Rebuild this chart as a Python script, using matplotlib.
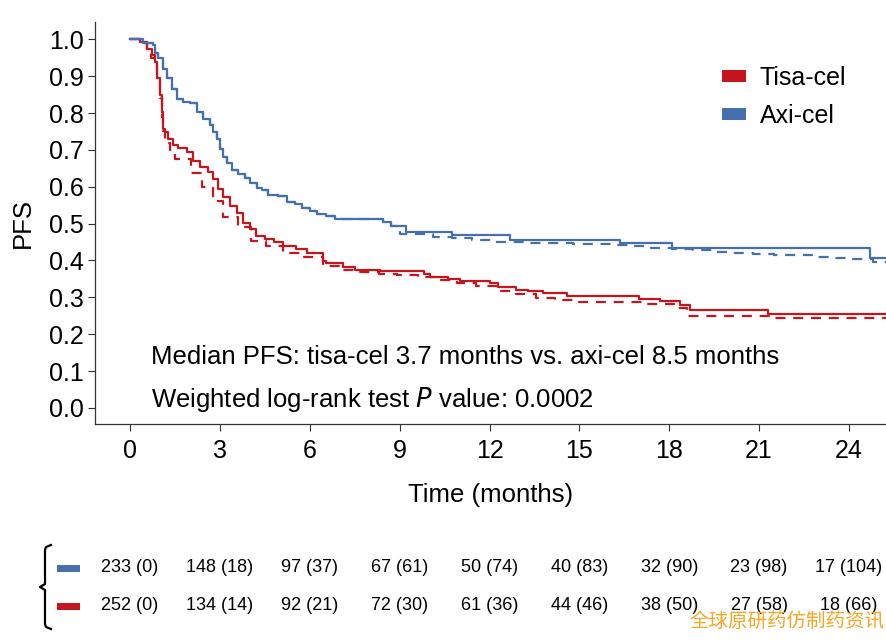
import numpy as np
import matplotlib
matplotlib.use('Agg')
import matplotlib.pyplot as plt
from matplotlib.patches import Patch, Rectangle
from matplotlib.lines import Line2D
import matplotlib.transforms as mtransforms

plt.rcParams['font.family'] = ['Liberation Sans', 'DejaVu Sans']

# Axi-cel, solid curve
axi_t = [0, 0.43, 0.77, 0.83, 0.93, 1.10, 1.23, 1.40, 1.57, 1.77, 2.00, 2.24, 2.44,
         2.67, 2.77, 2.90, 3.00, 3.10, 3.25, 3.40, 3.60, 3.85, 4.00, 4.25, 4.40, 4.60,
         4.95, 5.25, 5.50, 5.75, 6.00, 6.25, 6.55, 6.85, 8.45, 8.70, 9.20, 10.75, 12.70,
         16.35, 18.10, 24.70, 25.3]
axi_s = [1.0, 0.99, 0.985, 0.962, 0.948, 0.92, 0.894, 0.866, 0.839, 0.83, 0.826, 0.803,
         0.785, 0.767, 0.748, 0.73, 0.703, 0.68, 0.665, 0.645, 0.635, 0.624, 0.61, 0.597,
         0.59, 0.578, 0.574, 0.56, 0.552, 0.542, 0.535, 0.525, 0.52, 0.512, 0.505, 0.494,
         0.478, 0.469, 0.456, 0.447, 0.433, 0.406, 0.406]

# Axi-cel, dashed curve
axi_d_t = [0, 0.43, 0.77, 0.83, 0.93, 1.10, 1.23, 1.40, 1.57, 1.77, 2.00, 2.24, 2.44,
           2.67, 2.77, 2.90, 3.00, 3.10, 3.25, 3.40, 3.60, 3.85, 4.00, 4.25, 4.40, 4.60,
           4.95, 5.25, 5.50, 5.75, 6.00, 6.25, 6.55, 6.85, 8.45, 8.70, 9.00, 10.10, 10.75,
           11.40, 12.10, 13.35, 14.80, 16.10, 16.75, 17.40, 18.10, 18.80, 19.50, 20.10,
           20.80, 21.50, 22.10, 22.80, 23.50, 24.10, 24.80, 25.3]
axi_d_s = [1.0, 0.99, 0.985, 0.962, 0.948, 0.92, 0.894, 0.866, 0.839, 0.83, 0.826, 0.803,
           0.785, 0.767, 0.748, 0.73, 0.703, 0.68, 0.665, 0.645, 0.635, 0.624, 0.61, 0.597,
           0.59, 0.578, 0.574, 0.56, 0.552, 0.542, 0.535, 0.525, 0.52, 0.512, 0.505, 0.494,
           0.471, 0.465, 0.46, 0.456, 0.45, 0.447, 0.444, 0.441, 0.438, 0.434, 0.43, 0.428,
           0.424, 0.421, 0.418, 0.416, 0.414, 0.41, 0.407, 0.403, 0.396, 0.396]

# Tisa-cel, solid curve
tisa_t = [0, 0.33, 0.57, 0.73, 0.83, 0.90, 1.00, 1.07, 1.10, 1.17, 1.27, 1.43, 1.60, 1.90,
          2.10, 2.33, 2.60, 2.77, 2.93, 3.10, 3.34, 3.57, 3.77, 4.00, 4.20, 4.50, 4.80,
          5.10, 5.55, 5.90, 6.45, 6.55, 7.10, 7.50, 8.35, 9.80, 10.00, 10.60, 11.00, 12.00,
          12.30, 12.90, 13.30, 13.80, 14.60, 17.00, 17.70, 18.35, 18.70, 21.30, 25.3]
tisa_s = [1.0, 0.994, 0.975, 0.957, 0.939, 0.894, 0.848, 0.803, 0.757, 0.749, 0.73, 0.712,
          0.705, 0.694, 0.671, 0.653, 0.639, 0.621, 0.594, 0.571, 0.549, 0.53, 0.503, 0.485,
          0.467, 0.458, 0.449, 0.44, 0.43, 0.421, 0.399, 0.394, 0.383, 0.374, 0.371, 0.362,
          0.355, 0.349, 0.344, 0.338, 0.328, 0.32, 0.316, 0.311, 0.303, 0.296, 0.289, 0.278,
          0.267, 0.256, 0.256]

# Tisa-cel, dashed curve
tisa_d_t = [0, 0.33, 0.55, 0.70, 0.83, 0.90, 1.00, 1.07, 1.10, 1.17, 1.35, 1.50, 2.05, 2.40,
            2.77, 3.10, 3.60, 4.05, 4.55, 5.10, 5.80, 6.45, 7.00, 7.60, 8.30, 8.90, 9.60,
            10.25, 10.90, 11.55, 12.30, 12.90, 13.55, 14.20, 15.00, 17.20, 18.25, 18.60,
            21.50, 25.3]
tisa_d_s = [1.0, 0.99, 0.97, 0.95, 0.93, 0.89, 0.84, 0.79, 0.75, 0.72, 0.70, 0.675, 0.637,
            0.599, 0.562, 0.517, 0.49, 0.454, 0.438, 0.42, 0.41, 0.385, 0.374, 0.369, 0.364,
            0.36, 0.354, 0.347, 0.338, 0.332, 0.317, 0.31, 0.299, 0.292, 0.287, 0.281, 0.27,
            0.249, 0.243, 0.243]

risk_times = [0, 3, 6, 9, 12, 15, 18, 21, 24]
axi_risk = ['233 (0)', '148 (18)', '97 (37)', '67 (61)', '50 (74)', '40 (83)',
            '32 (90)', '23 (98)', '17 (104)']
tisa_risk = ['252 (0)', '134 (14)', '92 (21)', '72 (30)', '61 (36)', '44 (46)',
             '38 (50)', '27 (58)', '18 (66)']

red = '#c4161c'
blue = '#4570ad'

W, H = 887, 641
fig = plt.figure(figsize=(W / 100, H / 100), dpi=100)
ax = fig.add_axes([95 / W, 1 - 424 / H, 792 / W, 402 / H])

ax.step(tisa_d_t, tisa_d_s, where='post', color=red, lw=1.6, dashes=(4.5, 3.5))
ax.step(axi_d_t, axi_d_s, where='post', color=blue, lw=1.6, dashes=(4.5, 3.5))
ax.step(tisa_t, tisa_s, where='post', color=red, lw=1.6)
ax.step(axi_t, axi_s, where='post', color=blue, lw=1.6)

ax.set_xlim(-1.17, 25.27)
ax.set_ylim(-0.0436, 1.047)
ax.set_xticks(risk_times)
ax.set_yticks(np.arange(0, 1.01, 0.1))
ax.set_yticklabels(['%.1f' % v for v in np.arange(0, 1.01, 0.1)])
ax.tick_params(labelsize=18, length=5, width=0.8, color='#333333')
ax.tick_params(axis='x', pad=6)
ax.tick_params(axis='y', pad=3)
for s in ['right', 'top']:
    ax.spines[s].set_visible(False)
for s in ['left', 'bottom']:
    ax.spines[s].set_linewidth(0.9)
    ax.spines[s].set_color('#333333')

ax.set_xlabel('Time (months)', fontsize=18.5, labelpad=14)
ax.set_ylabel('PFS', fontsize=18.5, labelpad=10)

ax.text(0.7, 0.137, 'Median PFS: tisa-cel 3.7 months vs. axi-cel 8.5 months',
        fontsize=18.5, va='center', ha='left')
ax.text(0.7, 0.023, 'Weighted log-rank test $P$ value: 0.0002',
        fontsize=18.5, va='center', ha='left')

handles = [Patch(facecolor=red, edgecolor='none', label='Tisa-cel'),
           Patch(facecolor=blue, edgecolor='none', label='Axi-cel')]
fig.legend(handles=handles, loc='upper left', bbox_to_anchor=(722 / W, 1 - 66 / H),
           frameon=False, fontsize=18, handlelength=0.96, handleheight=0.4,
           handletextpad=0.56, labelspacing=0.55, borderpad=0, borderaxespad=0)

# number at risk table
trans = mtransforms.blended_transform_factory(ax.transData, fig.transFigure)
for yp, labels, col in [(568, axi_risk, blue), (606, tisa_risk, red)]:
    for t, lab in zip(risk_times, labels):
        fig.text(t, 1 - yp / H, lab, transform=trans, fontsize=13,
                 ha='center', va='center')
    fig.patches.append(Rectangle((57 / W, 1 - (yp + 3.5) / H), 23 / W, 7 / H,
                                 transform=fig.transFigure, facecolor=col,
                                 edgecolor='none'))

bx = [51, 46, 45, 45, 40, 45, 45, 46, 51]
by = [545, 547, 550, 584, 587, 590, 624, 627, 629]
fig.lines.append(Line2D([v / W for v in bx], [1 - v / H for v in by],
                        transform=fig.transFigure, color='black', lw=1.6))

fig.text(884 / W, 1 - 621 / H, '全球原研药仿制药资讯', fontsize=14, color='#f5a623',
         ha='right', va='center', family=['Noto Sans CJK SC', 'DejaVu Sans'])

fig.savefig('out.png', dpi=100)
plt.close('all')
